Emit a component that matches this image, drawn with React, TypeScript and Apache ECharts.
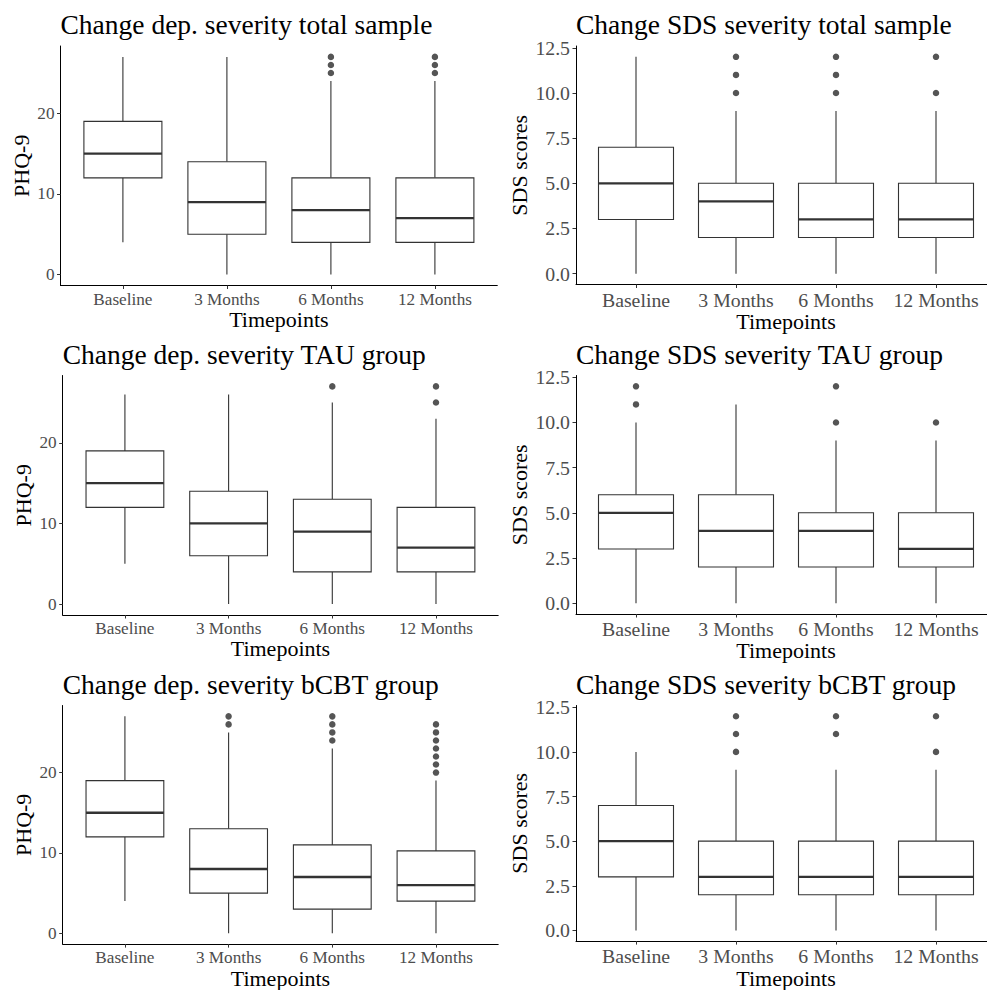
import React, { useEffect, useRef } from 'react';
import * as echarts from 'echarts';

const timepoints = ['Baseline', '3 Months', '6 Months', '12 Months'];

// each box: [lower whisker, Q1, median, Q3, upper whisker]
const depTotalBoxes = [[4, 12, 15, 19, 27], [0, 5, 9, 14, 27], [0, 4, 8, 12, 24], [0, 4, 7, 12, 24]];
const depTotalOutliers = [[], [], [25, 26, 27], [25, 26, 27]];
const sdsTotalBoxes = [[0, 3, 5, 7, 12], [0, 2, 4, 5, 9], [0, 2, 3, 5, 9], [0, 2, 3, 5, 9]];
const sdsTotalOutliers = [[], [10, 11, 12], [10, 11, 12], [10, 12]];
const depTauBoxes = [[5, 12, 15, 19, 26], [0, 6, 10, 14, 26], [0, 4, 9, 13, 25], [0, 4, 7, 12, 23]];
const depTauOutliers = [[], [], [27], [25, 27]];
const sdsTauBoxes = [[0, 3, 5, 6, 10], [0, 2, 4, 6, 11], [0, 2, 4, 5, 9], [0, 2, 3, 5, 9]];
const sdsTauOutliers = [[11, 12], [], [10, 12], [10]];
const depCbtBoxes = [[4, 12, 15, 19, 27], [0, 5, 8, 13, 25], [0, 3, 7, 11, 23], [0, 4, 6, 10.25, 19]];
const depCbtOutliers = [[], [26, 27], [24, 25, 26, 27], [20, 21, 22, 23, 24, 25, 26]];
const sdsCbtBoxes = [[0, 3, 5, 7, 10], [0, 2, 3, 5, 9], [0, 2, 3, 5, 9], [0, 2, 3, 5, 9]];
const sdsCbtOutliers = [[], [10, 11, 12], [11, 12], [10, 12]];

const phqTicks = [0, 10, 20];
const sdsTicks = [0, 2.5, 5, 7.5, 10, 12.5];
const catTicks = [1, 2, 3, 4];

const titles = [
  'Change dep. severity total sample',
  'Change SDS severity total sample',
  'Change dep. severity TAU group',
  'Change SDS severity TAU group',
  'Change dep. severity bCBT group',
  'Change SDS severity bCBT group',
];

const FONT = '"Liberation Serif", "Times New Roman", serif';

type Panel = {
  title: string;
  yName: string;
  boxes: number[][];
  outliers: number[][];
  ticks: number[];
  dep: boolean;
  left: number;
  top: number;
  width: number;
  height: number;
  titleY: number;
};

const rowTops = [46, 375.5, 705.5];
const rowTitleY = [24, 354, 684];

const panels: Panel[] = [
  { title: titles[0], yName: 'PHQ-9', boxes: depTotalBoxes, outliers: depTotalOutliers, ticks: phqTicks, dep: true, left: 60.5, top: rowTops[0], width: 436.8, height: 239.5, titleY: rowTitleY[0] },
  { title: titles[1], yName: 'SDS scores', boxes: sdsTotalBoxes, outliers: sdsTotalOutliers, ticks: sdsTicks, dep: false, left: 576, top: rowTops[0], width: 420, height: 238.5, titleY: rowTitleY[0] },
  { title: titles[2], yName: 'PHQ-9', boxes: depTauBoxes, outliers: depTauOutliers, ticks: phqTicks, dep: true, left: 62.7, top: rowTops[1], width: 435.5, height: 239.5, titleY: rowTitleY[1] },
  { title: titles[3], yName: 'SDS scores', boxes: sdsTauBoxes, outliers: sdsTauOutliers, ticks: sdsTicks, dep: false, left: 576, top: rowTops[1], width: 420, height: 238.5, titleY: rowTitleY[1] },
  { title: titles[4], yName: 'PHQ-9', boxes: depCbtBoxes, outliers: depCbtOutliers, ticks: phqTicks, dep: true, left: 62.7, top: rowTops[2], width: 435.5, height: 239.5, titleY: rowTitleY[2] },
  { title: titles[5], yName: 'SDS scores', boxes: sdsCbtBoxes, outliers: sdsCbtOutliers, ticks: sdsTicks, dep: false, left: 576, top: rowTops[2], width: 420, height: 238.5, titleY: rowTitleY[2] },
];

const STROKE = '#333333';

function buildOption() {
  const grid: any[] = [];
  const xAxis: any[] = [];
  const yAxis: any[] = [];
  const series: any[] = [];
  const graphic: any[] = [];

  panels.forEach((p, i) => {
    const labelSize = p.dep ? 17.2 : 19.8;
    grid.push({ left: p.left, top: p.top, width: p.width, height: p.height, containLabel: false });
    xAxis.push({
      type: 'value',
      gridIndex: i,
      min: 0.4,
      max: 4.6,
      name: 'Timepoints',
      nameLocation: 'middle',
      nameGap: 22,
      nameTextStyle: { fontFamily: FONT, fontSize: 22, color: '#000' },
      axisLine: { show: true, onZero: false, lineStyle: { color: '#000', width: 1 } },
      axisTick: { show: true, customValues: catTicks, length: 3.5, lineStyle: { color: STROKE, width: 1 } },
      axisLabel: {
        show: true,
        customValues: catTicks,
        margin: 5,
        fontFamily: FONT,
        fontSize: labelSize,
        color: '#4d4d4d',
        formatter: (v: number) => timepoints[Math.round(v) - 1] ?? '',
      },
      splitLine: { show: false },
    });
    const min = p.dep ? -1.35 : -0.6;
    const max = p.dep ? 28.35 : 12.6;
    yAxis.push({
      type: 'value',
      gridIndex: i,
      min,
      max,
      name: p.yName,
      nameLocation: 'middle',
      nameRotate: 90,
      nameGap: p.dep ? 28 : 46,
      nameTextStyle: { fontFamily: FONT, fontSize: 22, color: '#000' },
      axisLine: { show: true, onZero: false, lineStyle: { color: '#000', width: 1 } },
      axisTick: { show: true, customValues: p.ticks, length: 3.5, lineStyle: { color: STROKE, width: 1 } },
      axisLabel: {
        show: true,
        customValues: p.ticks,
        margin: 6,
        fontFamily: FONT,
        fontSize: labelSize,
        color: '#4d4d4d',
        formatter: (v: number) => (p.dep ? String(v) : v.toFixed(1)),
      },
      splitLine: { show: false },
    });
    series.push({
      type: 'custom',
      xAxisIndex: i,
      yAxisIndex: i,
      encode: { x: 0, y: [1, 2, 3, 4, 5] },
      data: p.boxes.map((b, k) => [k + 1, ...b]),
      renderItem: (params: any, api: any) => {
        const x = api.value(0);
        const pMin = api.coord([x, api.value(1)]);
        const pQ1 = api.coord([x, api.value(2)]);
        const pMd = api.coord([x, api.value(3)]);
        const pQ3 = api.coord([x, api.value(4)]);
        const pMax = api.coord([x, api.value(5)]);
        const half = api.size([0.75, 0])[0] / 2;
        const cx = pMin[0];
        const ls = { stroke: STROKE, lineWidth: 1.1 };
        return {
          type: 'group',
          children: [
            { type: 'line', shape: { x1: cx, y1: pMax[1], x2: cx, y2: pQ3[1] }, style: ls },
            { type: 'line', shape: { x1: cx, y1: pQ1[1], x2: cx, y2: pMin[1] }, style: ls },
            { type: 'rect', shape: { x: cx - half, y: pQ3[1], width: half * 2, height: pQ1[1] - pQ3[1] }, style: { fill: '#fff', stroke: STROKE, lineWidth: 1.1 } },
            { type: 'line', shape: { x1: cx - half, y1: pMd[1], x2: cx + half, y2: pMd[1] }, style: { stroke: STROKE, lineWidth: 2.3 } },
          ],
        };
      },
      silent: true,
    });
    series.push({
      type: 'scatter',
      xAxisIndex: i,
      yAxisIndex: i,
      symbol: 'circle',
      symbolSize: 6.5,
      itemStyle: { color: '#2a2a2a' },
      data: p.outliers.flatMap((arr, k) => arr.map((v) => [k + 1, v])),
      silent: true,
    });
    graphic.push({
      type: 'text',
      x: p.left,
      y: p.titleY,
      style: { text: p.title, fontFamily: FONT, fontSize: 27.5, fill: '#000', verticalAlign: 'middle' },
      silent: true,
    });
  });

  return { animation: false, backgroundColor: 'transparent', grid, xAxis, yAxis, series, graphic, tooltip: { show: false } };
}

export default function App() {
  const ref = useRef<HTMLDivElement>(null);
  useEffect(() => {
    document.body.style.margin = '0';
    if (!ref.current) return;
    const chart = echarts.init(ref.current, undefined, { renderer: 'svg' });
    chart.setOption(buildOption());
    return () => chart.dispose();
  }, []);
  return (
    <div style={{ width: 987, height: 990, overflow: 'hidden', background: '#fff' }}>
      <div ref={ref} style={{ width: 1010, height: 990 }} />
    </div>
  );
}
